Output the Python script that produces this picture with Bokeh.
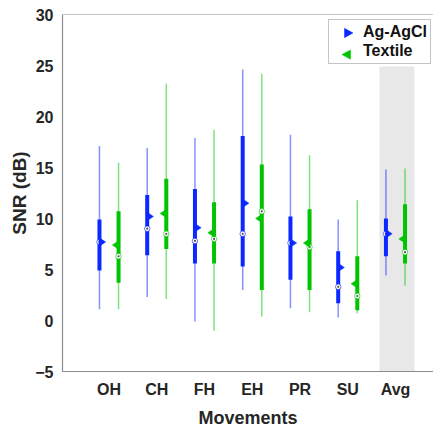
from bokeh.plotting import figure
from bokeh.models import (ColumnDataSource, FixedTicker, BoxAnnotation, Span,
                          Legend, LegendItem)
from bokeh.embed import file_html
from bokeh.resources import INLINE

categories = ["OH", "CH", "FH", "EH", "PR", "SU", "Avg"]
positions = [1, 2, 3, 4, 5, 6, 7]

# Ag-AgCl electrode SNR (dB)
ag_lo = [1.1, 2.3, -0.1, 3.0, 1.2, 0.3, 4.4]
ag_q1 = [4.9, 6.4, 5.6, 5.3, 4.0, 1.7, 6.3]
ag_med = [7.7, 9.0, 7.8, 8.5, 7.6, 3.3, 8.5]
ag_mean = [7.7, 10.2, 9.1, 11.5, 7.6, 5.2, 8.5]
ag_q3 = [9.9, 12.3, 12.9, 18.1, 10.2, 6.8, 10.0]
ag_hi = [17.1, 16.9, 17.9, 24.6, 18.2, 9.9, 14.8]

# Textile electrode SNR (dB)
tx_lo = [1.1, 2.1, -1.0, 0.4, 0.8, 0.7, 3.4]
tx_q1 = [3.7, 7.0, 5.6, 3.0, 3.0, 1.0, 5.6]
tx_med = [6.3, 8.5, 8.0, 10.7, 7.2, 2.4, 6.7]
tx_mean = [7.4, 10.5, 8.6, 10.0, 7.6, 3.6, 8.0]
tx_q3 = [10.7, 13.9, 11.6, 15.3, 10.9, 6.3, 11.4]
tx_hi = [15.5, 23.2, 18.7, 24.2, 16.2, 11.8, 14.9]

y_ticks = [-5, 0, 5, 10, 15, 20, 25, 30]

BLUE = "#0a28ff"
GREEN = "#00c400"
AXIS = "#8c8c8c"
TXT = "#262626"
BAND = "#e8e8e8"
FONT = "Liberation Sans"

# layout / scale constants
X0, X1, Y0, Y1 = 0.026, 7.796, -5, 30
FRAME_L, FRAME_T = 62, 14
PX_X = 47.75      # pixels per x unit
PX_Y = 10.23      # pixels per y unit


def dx(px):
    return px / PX_X


def dy(px):
    return px / PX_Y


def xd(page_x):
    return X0 + (page_x - FRAME_L) / PX_X


def yd(page_y):
    return Y1 - (page_y - FRAME_T) / PX_Y


p = figure(width=433, height=430, x_range=(X0, X1), y_range=(Y0, Y1),
           output_backend="svg", toolbar_location=None,
           min_border_left=62, min_border_right=0, min_border_top=14,
           min_border_bottom=58)
p.xgrid.visible = False
p.ygrid.visible = False
p.outline_line_color = None
p.background_fill_color = "white"

# shaded "Avg" band
band = BoxAnnotation(left=6.665, right=7.398, top=24.9, level="underlay",
                     fill_color=BAND, fill_alpha=1.0, line_color=None)
p.add_layout(band)
p.add_layout(Span(location=Y1, dimension="width", line_color=AXIS, line_width=1.2))

off = 0.2


def draw(lo, q1, med, mean, q3, hi, shift, color, direction):
    xs = [x + shift for x in positions]
    src = ColumnDataSource(dict(x=xs, lo=lo, q1=q1, med=med, q3=q3, hi=hi,
                                mean=mean))
    p.segment(x0="x", y0="lo", x1="x", y1="hi", source=src, line_color=color,
              line_alpha=0.5, line_width=1.5)
    p.segment(x0="x", y0="q1", x1="x", y1="q3", source=src, line_color=color,
              line_width=4)
    p.scatter(x="x", y="med", source=src, marker="circle", size=5.5,
              fill_color="white", line_color=color, line_alpha=0.6, line_width=1)
    p.scatter(x="x", y="med", source=src, marker="circle", size=2.2,
              fill_color="#555555", line_color=None)
    # mean markers: triangles pointing away from the box
    tri_x = [[x - direction * dx(0.5), x - direction * dx(0.5), x + direction * dx(6.2)]
             for x in xs]
    tri_y = [[m - dy(4.5), m + dy(4.5), m] for m in mean]
    p.patches(xs=tri_x, ys=tri_y, fill_color=color, line_color=color, line_width=0.5)
    # invisible proxy used by the legend entry
    return p.scatter(x="x", y="mean", source=src, size=1, fill_alpha=0, line_alpha=0)


r_ag = draw(ag_lo, ag_q1, ag_med, ag_mean, ag_q3, ag_hi, -off, BLUE, 1)
r_tx = draw(tx_lo, tx_q1, tx_med, tx_mean, tx_q3, tx_hi, off, GREEN, -1)

# axes
for ax in (p.xaxis[0], p.yaxis[0]):
    ax.axis_line_color = AXIS
    ax.axis_line_width = 1.2
    ax.major_tick_line_color = None
    ax.minor_tick_line_color = None
    ax.major_tick_out = 0
    ax.major_tick_in = 0
    ax.major_label_text_font = FONT
    ax.major_label_text_font_style = "bold"
    ax.major_label_text_color = TXT
    ax.major_label_text_font_size = "16px"
    ax.axis_label_text_font = FONT
    ax.axis_label_text_font_style = "bold"
    ax.axis_label_text_color = TXT

p.xaxis.ticker = FixedTicker(ticks=positions)
p.xaxis.major_label_overrides = {pos: c for pos, c in zip(positions, categories)}
p.xaxis.axis_label = "Movements"
p.xaxis.axis_label_text_font_size = "18px"
p.xaxis.major_label_standoff = 9
p.xaxis.axis_label_standoff = 7

p.yaxis.ticker = FixedTicker(ticks=y_ticks)
p.yaxis.axis_label = "SNR (dB)"
p.yaxis.axis_label_text_font_size = "19px"
p.yaxis.major_label_standoff = 9
p.yaxis.axis_label_standoff = 2

legend = Legend(items=[LegendItem(label="Ag-AgCl", renderers=[r_ag]),
                       LegendItem(label="Textile", renderers=[r_tx])],
                location=(266, 307), padding=3, margin=0, spacing=1,
                label_standoff=0, glyph_width=31, glyph_height=18,
                label_height=18, border_line_color=AXIS, border_line_width=1,
                background_fill_alpha=0.0,
                label_text_font=FONT, label_text_font_style="bold",
                label_text_font_size="16px", label_text_color="#111111")
p.add_layout(legend, "center")

# legend markers (right / left pointing triangles)
leg_tri_x = [[xd(344), xd(344), xd(352.5)], [xd(350), xd(350), xd(341.5)]]
leg_tri_y = [[yd(27.8), yd(37.2), yd(32.5)], [yd(49.5), yd(58.9), yd(54.2)]]
p.patches(xs=leg_tri_x, ys=leg_tri_y, fill_color=[BLUE, GREEN],
          line_color=[BLUE, GREEN], line_width=0.5)

open("out.html", "w").write(file_html(p, INLINE))
